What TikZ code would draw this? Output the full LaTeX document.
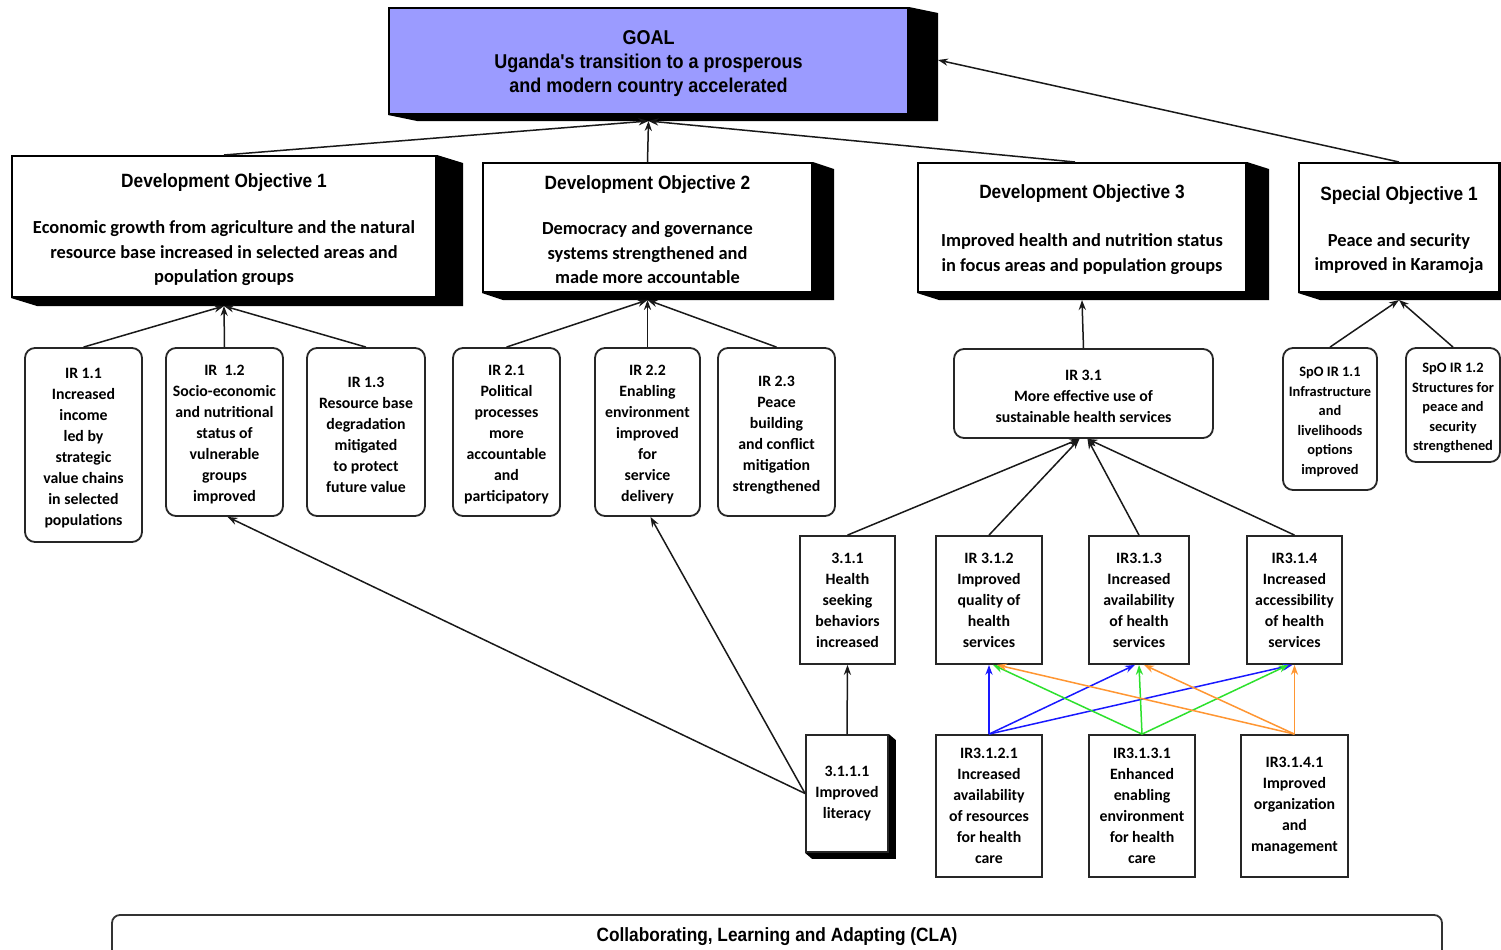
\documentclass[tikz,border=0pt]{standalone}
\usepackage{fontspec}
\setmainfont{Carlito}
\newfontfamily\arialfont[FakeStretch=0.9]{Liberation Sans}
\usetikzlibrary{arrows.meta,backgrounds,calc}
\definecolor{goalpurple}{RGB}{155,155,255}
\definecolor{myblue}{RGB}{25,25,255}
\definecolor{mygreen}{RGB}{45,225,45}
\definecolor{myorange}{RGB}{255,150,50}
\newcommand{\titlefont}{\arialfont\bfseries\fontsize{9.6}{12}\selectfont}
% #1 name, #2-#5 corners (px), #6 kind, #7 text shift (px, down), #8 text
\newcommand{\mybox}[8]{%
  \node[#6box, minimum width={(#4-#2)*0.5pt}, minimum height={(#5-#3)*0.5pt}] (#1) at ({(#2+#4)/2},{(#3+#5)/2}) {};
  \node[#6text, align=center, inner sep=0pt] (#1-t) at ($(#1.center)+(0,#7)$) {#8};}
\newcommand{\shadowof}[3]{\fill[black] (#1.north east) -- ++(#2,#3) -- ($(#1.south east)+(#2,#3)$) -- ($(#1.south west)+(#2,#3)$) -- (#1.south west) -- cycle;}
\tikzset{
  conn/.style={line width=0.75pt, draw=black!90, -{Stealth[length=5pt,width=3.6pt]}},
  cconn/.style={line width=0.75pt, draw=#1, -{Stealth[length=5pt,width=3.6pt]}},
  goalbox/.style={draw, line width=1pt, fill=goalpurple, inner sep=0pt},
  goaltext/.style={font=\arialfont\bfseries\fontsize{10}{12}\selectfont},
  dobox/.style={draw, line width=1pt, fill=white, inner sep=0pt},
  dotext/.style={font=\bfseries\fontsize{9.2}{12.25}\selectfont},
  irbox/.style={draw=black!85, line width=0.9pt, rounded corners=5pt, fill=white, inner sep=0pt},
  irtext/.style={font=\bfseries\fontsize{7.9}{10.5}\selectfont},
  spobox/.style={irbox},
  spotext/.style={font=\bfseries\fontsize{7.2}{9.75}\selectfont},
  rectbox/.style={draw=black!85, line width=0.9pt, fill=white, inner sep=0pt},
  recttext/.style={irtext},
  clabox/.style={draw=black!80, line width=0.9pt, rounded corners=4pt, fill=white, inner sep=0pt},
  clatext/.style={font=\arialfont\bfseries\fontsize{9.6}{12}\selectfont},
}
\begin{document}
\begin{tikzpicture}[x=0.5pt,y=-0.5pt]
\useasboundingbox (0,0) rectangle (1501,949);
% top level
\mybox{goal}{389}{8}{908}{114}{goal}{3}{GOAL\\Uganda's transition to a prosperous\\and modern country accelerated}
\mybox{do1}{12}{156}{436}{297}{do}{3}{{\titlefont Development Objective 1}\\[11pt]Economic growth from agriculture and the natural\\resource base increased in selected areas and\\population groups}
\mybox{do2}{483}{163}{812}{292}{do}{2}{{\titlefont Development Objective 2}\\[10.5pt]Democracy and governance\\systems strengthened and\\made more accountable}
\mybox{do3}{918}{163}{1246}{292}{do}{2}{{\titlefont Development Objective 3}\\[12pt]Improved health and nutrition status\\in focus areas and population groups}
\mybox{so1}{1299}{163}{1499}{292}{do}{3}{{\titlefont Special Objective 1}\\[10.5pt]Peace and security\\improved in Karamoja}
% IR row
\mybox{ir11}{25}{348}{142}{542}{ir}{3}{IR 1.1\\Increased\\income\\led by\\strategic\\value chains\\in selected\\populations}
\mybox{ir12}{166}{348}{283}{516}{ir}{3}{IR~~1.2\\Socio-economic\\and nutritional\\status of\\vulnerable\\groups\\improved}
\mybox{ir13}{307}{348}{425}{516}{ir}{3}{IR 1.3\\Resource base\\degradation\\mitigated\\to protect\\future value}
\mybox{ir21}{453}{348}{560}{516}{ir}{3}{IR 2.1\\Political\\processes\\more\\accountable\\and\\participatory}
\mybox{ir22}{595}{348}{700}{516}{ir}{3}{IR 2.2\\Enabling\\environment\\improved\\for\\service\\delivery}
\mybox{ir23}{718}{348}{835}{516}{ir}{3}{IR 2.3\\Peace\\building\\and conflict\\mitigation\\strengthened}
\mybox{ir31}{954}{349}{1213}{438}{ir}{3}{IR 3.1\\More effective use of\\sustainable health services}
\mybox{spo11}{1283}{348}{1377}{490}{spo}{3}{SpO IR 1.1\\Infrastructure\\and\\livelihoods\\options\\improved}
\mybox{spo12}{1406}{348}{1500}{462}{spo}{3}{SpO IR 1.2\\Structures for\\peace and\\security\\strengthened}
% level 3
\mybox{ir311}{800}{536}{895}{664}{rect}{0}{3.1.1\\Health\\seeking\\behaviors\\increased}
\mybox{ir312}{936}{536}{1042}{664}{rect}{0}{IR 3.1.2\\Improved\\quality of\\health\\services}
\mybox{ir313}{1089}{536}{1189}{664}{rect}{0}{IR3.1.3\\Increased\\availability\\of health\\services}
\mybox{ir314}{1247}{536}{1342}{664}{rect}{0}{IR3.1.4\\Increased\\accessibility\\of health\\services}
% level 4
\mybox{ir3111}{806}{735}{888}{852}{rect}{0}{3.1.1.1\\Improved\\literacy}
\mybox{ir3121}{936}{735}{1042}{877}{rect}{0}{IR3.1.2.1\\Increased\\availability\\of resources\\for health\\care}
\mybox{ir3131}{1089}{735}{1195}{877}{rect}{0}{IR3.1.3.1\\Enhanced\\enabling\\environment\\for health\\care}
\mybox{ir3141}{1241}{735}{1348}{877}{rect}{0}{IR3.1.4.1\\Improved\\organization\\and\\management}
% CLA
\mybox{cla}{112}{915}{1442}{959}{cla}{0}{Collaborating, Learning and Adapting (CLA)}
% shadows
\begin{scope}[on background layer]
\fill[white] (0,0) rectangle (1501,949);
\shadowof{goal}{29}{6}
\shadowof{do1}{26}{8}
\shadowof{do2}{21}{7}
\shadowof{do3}{22}{7}
\shadowof{so1}{22}{7}
\shadowof{ir3111}{7}{6}
\end{scope}
% connectors to goal
\coordinate (goalb) at ($(goal.south)+(0,6)$);
\draw[conn] (do1.north) -- (goalb);
\draw[conn] (do2.north) -- (goalb);
\draw[conn] ($(do3.north)+(-7,0)$) -- (goalb);
\draw[conn] (so1.north) -- ($(goal.east)+(29,-1)$);
% IRs to DOs
\coordinate (do1b) at ($(do1.south)+(0,8)$);
\coordinate (do2b) at ($(do2.south)+(0,7)$);
\coordinate (do3b) at ($(do3.south)+(0,7)$);
\coordinate (so1b) at ($(so1.south)+(0,7)$);
\draw[conn] (ir11.north) -- (do1b);
\draw[conn] (ir12.north) -- (do1b);
\draw[conn] (ir13.north) -- (do1b);
\draw[conn] (ir21.north) -- (do2b);
\draw[conn] (ir22.north) -- (do2b);
\draw[conn] (ir23.north) -- (do2b);
\draw[conn] (ir31.north) -- (do3b);
\draw[conn] (spo11.north) -- (so1b);
\draw[conn] (spo12.north) -- (so1b);
% level 3 to IR 3.1
\draw[conn] (ir311.north) -- ($(ir31.south)+(-4,0)$);
\draw[conn] (ir312.north) -- ($(ir31.south)+(-4,0)$);
\draw[conn] (ir313.north) -- ($(ir31.south)+(4,0)$);
\draw[conn] (ir314.north) -- ($(ir31.south)+(4,0)$);
% literacy
\draw[conn] (ir3111.north) -- (ir311.south);
\draw[conn] (ir3111.west) -- ($(ir12.south)+(3,0)$);
\draw[conn] (ir3111.west) -- ($(ir22.south)+(3,0)$);
% coloured
\draw[cconn=myblue] (ir3121.north) -- (ir312.south);
\draw[cconn=myblue] (ir3121.north) -- ($(ir313.south)+(-4,0)$);
\draw[cconn=myblue] (ir3121.north) -- ($(ir314.south)+(-2,0)$);
\draw[cconn=mygreen] (ir3131.north) -- ($(ir312.south)+(4,0)$);
\draw[cconn=mygreen] (ir3131.north) -- (ir313.south);
\draw[cconn=mygreen] (ir3131.north) -- ($(ir314.south)+(-6,0)$);
\draw[cconn=myorange] (ir3141.north) -- ($(ir312.south)+(8,0)$);
\draw[cconn=myorange] (ir3141.north) -- ($(ir313.south)+(5,0)$);
\draw[cconn=myorange] (ir3141.north) -- (ir314.south);
\end{tikzpicture}
\end{document}
